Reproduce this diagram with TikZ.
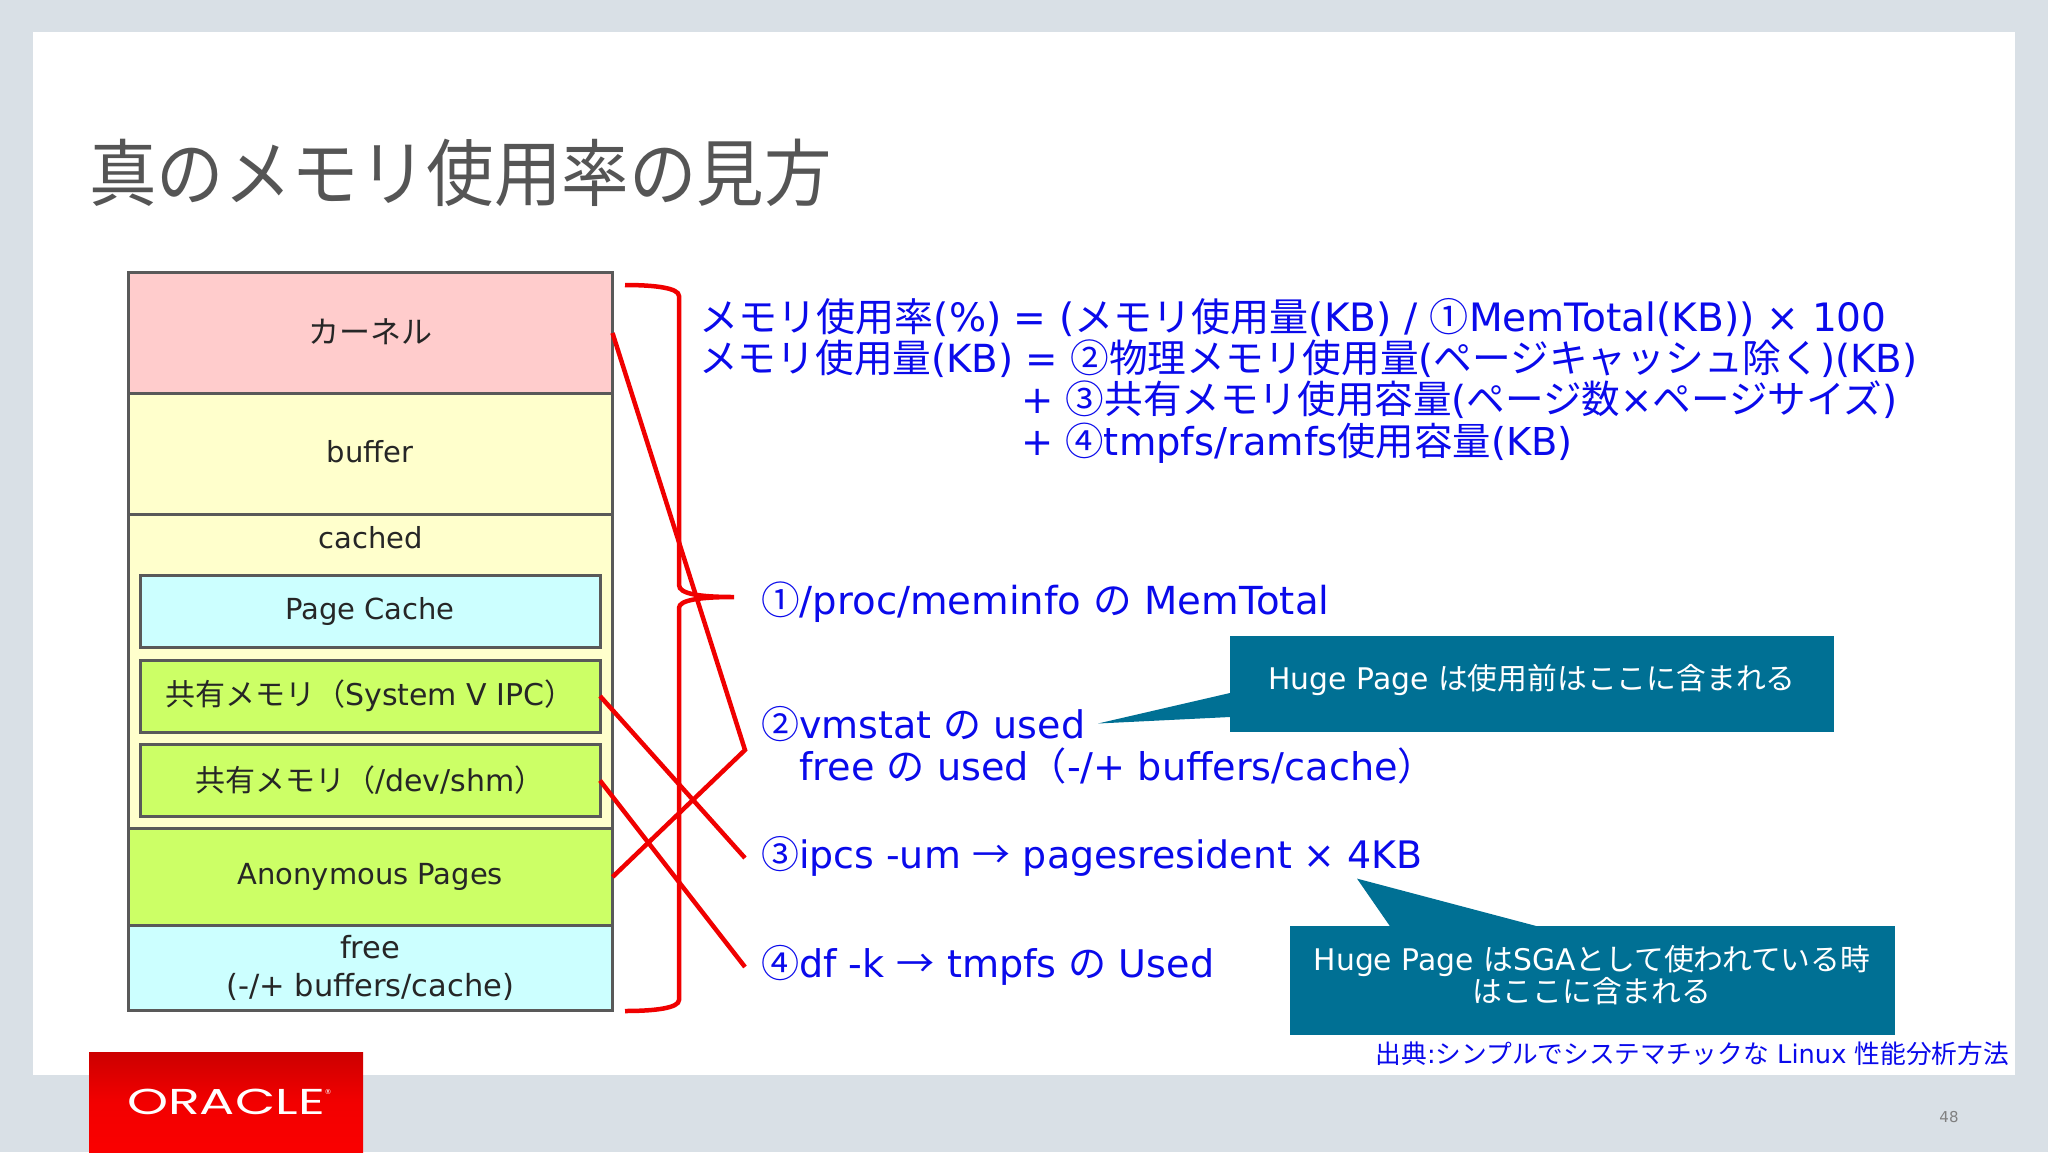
\documentclass[tikz,border=0pt]{standalone}
\usepackage{fontspec}
\setmainfont{DejaVu Sans}
\newfontfamily\cjk{Noto Sans CJK JP}
\newfontfamily\logofont{Poppins}
\newcommand{\J}[1]{{\cjk #1}}
\newcommand{\up}[2]{\raisebox{#1}{#2}}
\newcommand{\fs}[1]{\fontsize{#1}{#1}\selectfont}
\definecolor{slidebg}{RGB}{217,224,230}
\definecolor{boxline}{RGB}{89,89,89}
\definecolor{kernelfill}{RGB}{255,204,204}
\definecolor{yellowfill}{RGB}{255,255,204}
\definecolor{cyanfill}{RGB}{204,255,255}
\definecolor{limefill}{RGB}{204,255,102}
\definecolor{callout}{RGB}{0,112,148}
\definecolor{txtblue}{RGB}{10,10,235}
\definecolor{redline}{RGB}{240,0,0}
\definecolor{titlegray}{RGB}{85,85,85}
\tikzset{
  x=1pt,y=-1pt,
  outerbox/.style={draw=boxline,line width=3pt,outer sep=0pt,minimum width=484.5pt,inner sep=0pt,anchor=north west,font=\fs{29},text=black!85,align=center},
  innerbox/.style={draw=boxline,line width=3pt,outer sep=0pt,minimum width=460pt,minimum height=72pt,inner sep=0pt,anchor=north west,font=\fs{29},text=black!85,align=center},
  formula/.style={anchor=base west,inner sep=0pt,text=txtblue,font=\fs{38}},
  redlink/.style={draw=redline,line width=4.5pt,line cap=butt,line join=miter},
  callouttext/.style={text=white,font=\fs{29.8},inner sep=0pt,align=center},
}
\begin{document}
\begin{tikzpicture}
\useasboundingbox (0,0) rectangle (2048,1152);
\fill[slidebg] (0,0) rectangle (2048,1152);
\fill[white] (33,32) rectangle (2015,1075);

\node[anchor=base west,inner sep=0pt,text=titlegray] (title) at (89,200) {\scalebox{1}[1.08]{\fs{67.5}\cjk 真のメモリ使用率の見方}};

% memory stack
\node[outerbox,fill=kernelfill,minimum height=121pt,font=\fs{31}] (kernel) at (128,272.5) {\up{4pt}{\J{カーネル}}};
\node[outerbox,fill=yellowfill,minimum height=121pt] (buffer) at (128,393.5) {\up{4.5pt}{buffer}};
\node[outerbox,fill=yellowfill,minimum height=314pt] (cached) at (128,514.5) {};
\node[anchor=base,inner sep=0pt,font=\fs{29},text=black!85] (cachedlabel) at (370.5,548) {cached};
\node[innerbox,fill=cyanfill] (pagecache) at (140,575.5) {\up{1pt}{Page Cache}};
\node[innerbox,fill=limefill,font=\fs{30}] (shma) at (140,660) {\up{2pt}{\J{共有メモリ（}System V IPC\J{）}}};
\node[innerbox,fill=limefill,font=\fs{30}] (shmb) at (140,744.5) {\up{4pt}{\J{共有メモリ（}/dev/shm\J{）}}};
\node[outerbox,fill=limefill,minimum height=97pt] (anon) at (128,828.5) {\up{-1pt}{Anonymous Pages}};
\node[outerbox,fill=cyanfill,minimum height=85pt,font=\fs{30.5}] (free) at (128,925.5) {\up{2pt}{free}\\[5pt](-/+ buffers/cache)};

% formula text
\node[formula,font=\fs{39.1}] (f1) at (699,331) {\J{メモリ使用率}(\%) = (\J{メモリ使用量}(KB) / \J{①}MemTotal(KB)) × 100};
\node[formula,font=\fs{38.7}] (f2) at (699,372) {\J{メモリ使用量}(KB) = \J{②物理メモリ使用量}(\J{ページキャッシュ除く})(KB)};
\node[formula,font=\fs{38.6}] (f3) at (1021,413) {+ \J{③共有メモリ使用容量}(\J{ページ数}×\J{ページサイズ})};
\node[formula,font=\fs{38.4}] (f4) at (1021,455) {+ \J{④}tmpfs/ramfs\J{使用容量}(KB)};

\node[formula,font=\fs{38.6}] (i1) at (761,614) {\J{①}/proc/meminfo \J{の} MemTotal};
\node[formula] (i2) at (761,738) {\J{②}vmstat \J{の} used};
\node[formula,font=\fs{38.2}] (i2b) at (799,780) {free \J{の} used\J{（}-/+ buffers/cache\J{）}};
\node[formula,font=\fs{37.9}] (i3) at (761,868) {\J{③}ipcs -um \J{→} pagesresident × 4KB};
\node[formula,font=\fs{38.1}] (i4) at (761,977) {\J{④}df -k \J{→} tmpfs \J{の} Used};

% brace
\coordinate (bracetop) at (625,285);
\coordinate (bracetip) at (734,597);
\coordinate (bracebot) at (625,1011);
\draw[redlink] (bracetop) .. controls (655,285) and (679,288) .. (679,296)
  -- (679,585) .. controls (679,594) and (700,597) .. (bracetip)
  (bracetip) .. controls (700,597) and (679,600) .. (679,608)
  -- (679,1000) .. controls (679,1008) and (655,1011) .. (bracebot);

% links
\coordinate (hub) at (745,750);
\coordinate (end3) at (745,858);
\coordinate (end4) at (745,967);
\draw[redlink] (kernel.east) -- (hub) -- (anon.east);
\draw[redlink] (shma.east) -- (end3);
\draw[redlink] (shmb.east) -- (end4);

% callouts
\fill[callout] (1229.5,636) rectangle (1834,732);
\fill[callout] (1230,693) -- (1098,723.5) -- (1230,717) -- cycle;
\node[callouttext] (c1) at (1532,680) {Huge Page \J{は使用前はここに含まれる}};
\fill[callout] (1290,926) rectangle (1895,1035);
\fill[callout] (1390.5,927) -- (1357,878.6) -- (1540,927) -- cycle;
\node[callouttext,anchor=base] (c2a) at (1592,970) {Huge Page \J{は}SGA\J{として使われている時}};
\node[callouttext,anchor=base] (c2b) at (1592,1002) {\J{はここに含まれる}};

\node[anchor=base east,inner sep=0pt,text=txtblue,font=\fs{25.7}] (cite) at (2009,1063) {\J{出典}:\J{シンプルでシステマチックな} Linux \J{性能分析方法}};

% logo
\shade[top color=red!80!black,bottom color=red!98!black,middle color=red!95!black] (89,1052) rectangle (363,1152);
\node[anchor=center,inner sep=0pt,text=white] (logo) at (226,1102) {\scalebox{1.45}[1]{\logofont\fs{36}ORACLE}};
\node[anchor=center,inner sep=0pt,text=white,font=\fs{7}] (logoreg) at (328,1092) {®};

\node[anchor=center,inner sep=0pt,text=black!50,font=\fs{15}] (page) at (1949,1117) {48};
\end{tikzpicture}
\end{document}
